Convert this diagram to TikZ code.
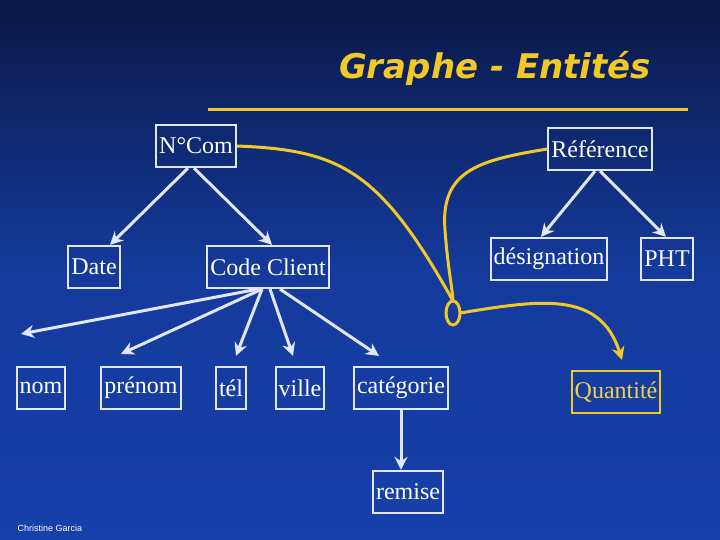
\documentclass[tikz,border=0pt]{standalone}
\usepackage{fontspec}
\usetikzlibrary{arrows.meta}
\setmainfont{Liberation Serif}
\newfontfamily\titlefont{DejaVu Sans}
\newfontfamily\smallsans{Liberation Sans}
\definecolor{bgtop}{RGB}{10,24,70}
\definecolor{bgbot}{RGB}{22,64,170}
\definecolor{gold}{RGB}{240,200,40}
\definecolor{boxline}{RGB}{225,230,250}
\tikzset{every picture/.style={line width=0.75pt}}
\tikzset{
  ent/.style={draw=boxline,line width=2.2pt,inner sep=3pt,minimum height=42pt,text=white,font=\fontsize{24}{28}\selectfont},
  wlink/.style={draw=boxline,line width=3pt,-{Stealth[length=13pt,width=13pt]}},
  ylink/.style={draw=gold,line width=3pt}
}
\begin{document}
\begin{tikzpicture}[x=1pt,y=1pt,yscale=-1,xscale=1]
%background
\shade[top color=bgtop,bottom color=bgbot,middle color=bgbot!85!bgtop] (0,0) rectangle (720,540);
\useasboundingbox (0,0) rectangle (720,540);

% Title
\node (title) at (495,68) {\titlefont\bfseries\itshape\fontsize{34}{38}\selectfont\color{gold}Graphe - Entités};
\draw [gold,line width=3pt] (208,110) -- (688,110);

% Text Node
\node [ent] (ncom) at (196,146) {N°Com};
\node [ent] (ref) at (600,149) {Référence};
\node [ent] (date) at (94,267) {Date};
\node [ent] (client) at (268,267) {Code Client};
\node [ent] (desig) at (549,259) {désignation};
\node [ent] (pht) at (667,259) {PHT};
\node [ent] (nom) at (41,388) {nom};
\node [ent] (prenom) at (141,388) {prénom};
\node [ent] (tel) at (231,388) {tél};
\node [ent] (ville) at (300,388) {ville};
\node [ent] (cat) at (401,388) {catégorie};
\node [ent,draw=gold,text=gold!85!white] (qte) at (616,392) {Quantité};
\node [ent] (remise) at (408,492) {remise};
\draw [gold,line width=3pt] (453,313) ellipse (7 and 12);
\coordinate (jtop) at (453,301);
\coordinate (jright) at (460,313);
\node [font=\smallsans\fontsize{9}{10}\selectfont,text=white] (author) at (50,528) {Christine Garcia};

% Links
\draw [wlink] ([xshift=-8pt]ncom.south) -- ([xshift=16pt]date.north);
\draw [wlink] ([xshift=-2pt]ncom.south) -- ([xshift=4pt]client.north);
\draw [wlink] ([xshift=-10pt]client.south) -- ([xshift=-20pt,yshift=-32pt]nom.north);
\draw [wlink] ([xshift=-6pt]client.south) -- ([xshift=-20pt,yshift=-12pt]prenom.north);
\draw [wlink] ([xshift=-6pt]client.south) -- ([xshift=5pt,yshift=-10pt]tel.north);
\draw [wlink] ([xshift=2pt]client.south) -- ([xshift=-7pt,yshift=-10pt]ville.north);
\draw [wlink] ([xshift=12pt]client.south) -- ([xshift=-22pt,yshift=-10pt]cat.north);
\draw [wlink] (cat.south) -- (cat.south |- remise.north);
\draw [wlink] ([xshift=-5pt]ref.south) -- ([xshift=-8pt]desig.north);
\draw [wlink] ([xshift=0pt]ref.south) -- ([xshift=-1pt]pht.north);

%Curve Lines
\draw [ylink] (ncom.east) .. controls (340,150) and (380,170) .. (jtop);
\draw [ylink] (ref.west) .. controls (480,160) and (440,170) .. (445,230) .. controls (448,270) and (452,285) .. (jtop);
\draw [ylink,-{Stealth[length=13pt,width=13pt]}] (jright) .. controls (540,300) and (600,290) .. ([xshift=6pt,yshift=-10pt]qte.north);
\end{tikzpicture}
\end{document}
